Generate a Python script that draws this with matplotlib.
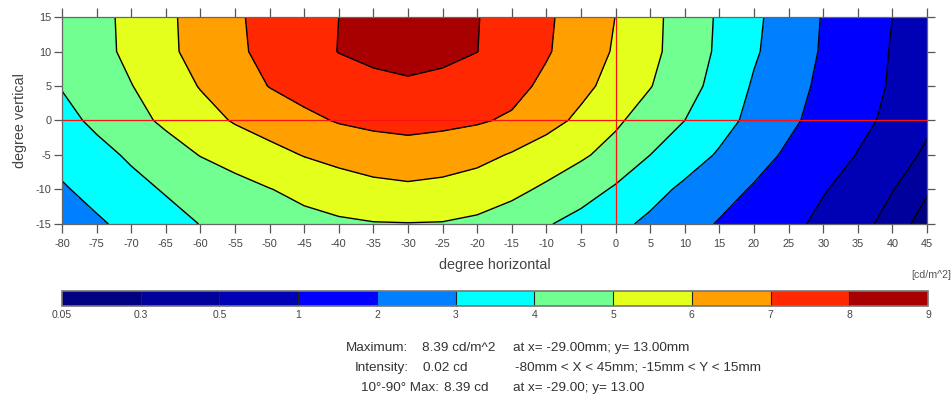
import numpy as np
import matplotlib
matplotlib.use("Agg")
import matplotlib.pyplot as plt
from matplotlib.colors import ListedColormap, BoundaryNorm

plt.rcParams['font.family'] = ['Liberation Sans', 'DejaVu Sans']
plt.rcParams['axes.unicode_minus'] = False

# grid of the measurement (degrees)
x_deg = [-80, -75, -70, -65, -60, -55, -50, -45, -40, -35, -30, -25, -20,
         -15, -10, -5, 0, 5, 10, 15, 20, 25, 30, 35, 40, 45]
y_deg = [15, 10, 5, 0, -5, -10, -15]

# luminance in cd/m^2, one row per y value
lum_y15 = [4.15, 4.70, 5.26, 5.82, 6.35, 6.88, 7.28, 7.64, 8.00, 8.22, 8.39, 8.27, 8.03,
           7.63, 7.14, 6.58, 5.99, 5.27, 4.57, 3.88, 3.18, 2.55, 1.95, 1.48, 1.00, 0.70]
lum_y10 = [4.15, 4.67, 5.24, 5.80, 6.32, 6.83, 7.26, 7.66, 8.02, 8.20, 8.30, 8.20, 8.01,
           7.57, 7.09, 6.51, 5.90, 5.24, 4.55, 3.84, 3.11, 2.50, 1.91, 1.42, 0.95, 0.68]
lum_y5 = [4.05, 4.50, 4.97, 5.51, 6.05, 6.54, 7.03, 7.35, 7.60, 7.78, 7.88, 7.78, 7.60,
          7.30, 6.79, 6.25, 5.66, 5.04, 4.38, 3.66, 2.90, 2.34, 1.81, 1.34, 0.92, 0.66]
lum_y0 = [3.70, 4.20, 4.69, 5.17, 5.64, 6.08, 6.43, 6.78, 7.07, 7.22, 7.30, 7.22, 7.10,
          6.87, 6.35, 5.79, 5.15, 4.57, 4.00, 3.35, 2.74, 2.18, 1.67, 1.20, 0.83, 0.57]
lum_ym5 = [3.30, 3.70, 4.14, 4.59, 5.03, 5.37, 5.70, 6.04, 6.30, 6.50, 6.60, 6.50, 6.30,
           5.92, 5.50, 5.13, 4.67, 4.00, 3.45, 2.90, 2.36, 1.85, 1.39, 0.97, 0.67, 0.44]
lum_ym10 = [2.90, 3.29, 3.70, 4.08, 4.37, 4.67, 4.97, 5.25, 5.50, 5.72, 5.82, 5.72, 5.50,
            5.22, 4.85, 4.42, 3.88, 3.33, 2.81, 2.36, 1.91, 1.48, 1.04, 0.77, 0.51, 0.32]
lum_ym15 = [2.50, 2.87, 3.25, 3.64, 4.02, 4.30, 4.52, 4.72, 4.86, 4.95, 4.97, 4.95, 4.82,
            4.55, 4.08, 3.66, 3.24, 2.80, 2.36, 1.93, 1.55, 1.16, 0.85, 0.60, 0.39, 0.22]

levels = [0.05, 0.3, 0.5, 1, 2, 3, 4, 5, 6, 7, 8, 9]
level_labels = ["0.05", "0.3", "0.5", "1", "2", "3", "4", "5", "6", "7", "8", "9"]
band_colors = ["#000080", "#00009c", "#0000b4", "#0000ff", "#0080ff", "#00ffff",
               "#70ff90", "#e4ff1c", "#ffa000", "#ff2800", "#a80000"]

x_ticks = list(range(-80, 46, 5))
y_ticks = [-15, -10, -5, 0, 5, 10, 15]

Z = np.array([lum_y15, lum_y10, lum_y5, lum_y0, lum_ym5, lum_ym10, lum_ym15])
X, Y = np.meshgrid(x_deg, y_deg)

cmap = ListedColormap(band_colors)
norm = BoundaryNorm(levels, cmap.N)

fig = plt.figure(figsize=(9.52, 4.03), dpi=100)
ax = fig.add_axes([0.0651, 0.4442, 0.9086, 0.5136])

cf = ax.contourf(X, Y, Z, levels=levels, cmap=cmap, norm=norm)
ax.contour(X, Y, Z, levels=levels[1:-1], colors="black", linewidths=1.0)
ax.axhline(0, color="#ff1010", lw=0.9)
ax.axvline(0, color="#ff1010", lw=0.9)

ax.set_xlim(-80, 45)
ax.set_ylim(-15, 15)
ax.set_xticks(x_ticks)
ax.set_yticks(y_ticks)
ax.tick_params(direction="out", width=0.9, color="#555555",
               labelsize=7.8, labelcolor="#444444", top=True, right=True)
ax.tick_params(axis="x", length=6.2, pad=4.5)
ax.tick_params(axis="y", length=5.5, pad=2)
for sp in ax.spines.values():
    sp.set_color("#666666")
    sp.set_linewidth(0.9)
ax.set_xlabel("degree horizontal", fontsize=10.4, color="#444444", labelpad=6.5)
ax.set_ylabel("degree vertical", fontsize=10.4, color="#444444", labelpad=6)

cax = fig.add_axes([0.0651, 0.2407, 0.9097, 0.0372])
cb = fig.colorbar(cf, cax=cax, orientation="horizontal", spacing="uniform",
                  ticks=levels, drawedges=True)
cb.ax.set_xticklabels(level_labels)
cb.ax.tick_params(length=0, labelsize=7.5, labelcolor="#444444", pad=3)
cb.outline.set_edgecolor("#777777")
cb.outline.set_linewidth(1.2)
cb.dividers.set_color("#222222")
cb.dividers.set_linewidth(0.8)

fig.text(0.999, 0.318, "[cd/m^2]", fontsize=7.7, color="#555555", ha="right", va="center")

txt = dict(fontsize=9.7, color="#333333", va="center")
fig.text(408 / 952, 1 - 348 / 403, "Maximum:", ha="right", **txt)
fig.text(422 / 952, 1 - 348 / 403, "8.39 cd/m^2", ha="left", **txt)
fig.text(513 / 952, 1 - 348 / 403, "at x= -29.00mm; y= 13.00mm", ha="left", **txt)
fig.text(409 / 952, 1 - 368 / 403, "Intensity:", ha="right", **txt)
fig.text(423 / 952, 1 - 368 / 403, "0.02 cd", ha="left", **txt)
fig.text(515 / 952, 1 - 368 / 403, "-80mm < X < 45mm; -15mm < Y < 15mm", ha="left", **txt)
fig.text(439 / 952, 1 - 388 / 403, "10°-90° Max:", ha="right", **txt)
fig.text(444 / 952, 1 - 388 / 403, "8.39 cd", ha="left", **txt)
fig.text(513 / 952, 1 - 388 / 403, "at x= -29.00; y= 13.00", ha="left", **txt)

fig.savefig("out.png", dpi=100)
